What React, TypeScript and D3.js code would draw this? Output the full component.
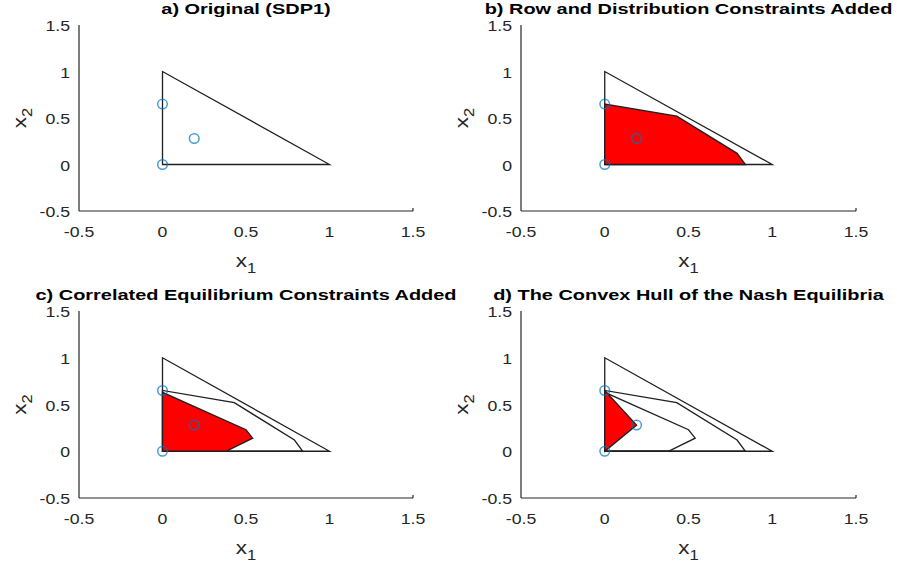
import React from "react";
import * as d3 from "d3";

type Pt = [number, number];

// feasible regions
const triangle: Pt[] = [[0, 0], [0, 1], [1, 0]];
const rowDistRegion: Pt[] = [[0, 0], [0, 0.65], [0.43, 0.52], [0.79, 0.12], [0.84, 0]];
const correlatedRegion: Pt[] = [[0, 0], [0, 0.63], [0.5, 0.23], [0.54, 0.14], [0.38, 0]];
const nashHull: Pt[] = [[0, 0], [0, 0.65], [0.19, 0.28]];
const nashPoints: Pt[] = [[0, 0], [0, 0.65], [0.19, 0.28]];

const tickValues = [-0.5, 0, 0.5, 1, 1.5];

const titles = [
  "a) Original (SDP1)",
  "b) Row and Distribution Constraints Added",
  "c) Correlated Equilibrium Constraints Added",
  "d) The Convex Hull of the Nash Equilibria",
];

// outlines and filled region for each panel
const panels: { outlines: Pt[][]; filled: Pt[] | null }[] = [
  { outlines: [triangle], filled: null },
  { outlines: [triangle], filled: rowDistRegion },
  { outlines: [triangle, rowDistRegion], filled: correlatedRegion },
  { outlines: [triangle, rowDistRegion, correlatedRegion], filled: nashHull },
];

const boxes = [
  { x0: 79, x1: 413, y0: 25, y1: 211 },
  { x0: 521, x1: 856, y0: 25, y1: 211 },
  { x0: 79, x1: 413, y0: 311, y1: 498 },
  { x0: 521, x1: 856, y0: 311, y1: 498 },
];

const axisColor = "#262626";
const font = "'Liberation Sans', Arial, Helvetica, sans-serif";
// the source figure's text is a bit wider than Liberation Sans
const SX = 1.18;

function T({
  x,
  y,
  size,
  anchor = "middle",
  bold = false,
  rotate = 0,
  fill = axisColor,
  sx = SX,
  children,
}: {
  x: number;
  y: number;
  size: number;
  anchor?: string;
  bold?: boolean;
  rotate?: number;
  fill?: string;
  sx?: number;
  children: React.ReactNode;
}) {
  const tr = rotate
    ? `translate(${x},${y}) rotate(${rotate}) scale(${sx},1)`
    : `translate(${x},${y}) scale(${sx},1)`;
  return (
    <text
      transform={tr}
      textAnchor={anchor as any}
      fontSize={size}
      fontWeight={bold ? "bold" : "normal"}
      fill={fill}
      fontFamily={font}
    >
      {children}
    </text>
  );
}

function Panel({ idx }: { idx: number }) {
  const b = boxes[idx];
  const p = panels[idx];
  const x = d3.scaleLinear().domain([-0.5, 1.5]).range([b.x0, b.x1]);
  const y = d3.scaleLinear().domain([-0.5, 1.5]).range([b.y1, b.y0]);
  const line = d3
    .line<Pt>()
    .x((d) => x(d[0]))
    .y((d) => y(d[1]))
    .curve(d3.curveLinearClosed);
  const cx = (b.x0 + b.x1) / 2;
  const cy = (b.y0 + b.y1) / 2;

  return (
    <g>
      {p.outlines.map((poly, i) => (
        <path key={i} d={line(poly) ?? ""} fill="none" stroke="#1f1f1f" strokeWidth={1.3} />
      ))}
      {p.filled ? (
        <path d={line(p.filled) ?? ""} fill="#ff0000" stroke="#1f1f1f" strokeWidth={1.3} />
      ) : null}
      {nashPoints.map((d, i) => (
        <circle
          key={i}
          cx={x(d[0])}
          cy={y(d[1])}
          r={4.8}
          fill="none"
          stroke="#0072BD"
          strokeOpacity={0.7}
          strokeWidth={1.5}
        />
      ))}
      {/* axes: left and bottom only */}
      <line x1={b.x0} x2={b.x1} y1={b.y1} y2={b.y1} stroke={axisColor} strokeWidth={1.2} />
      <line x1={b.x0} x2={b.x0} y1={b.y0} y2={b.y1} stroke={axisColor} strokeWidth={1.2} />
      <line x1={b.x1} x2={b.x1} y1={b.y1} y2={b.y1 - 3} stroke={axisColor} strokeWidth={1.2} />
      {tickValues.map((t) => (
        <T key={"x" + t} x={x(t)} y={b.y1 + 26} size={15}>
          {String(t)}
        </T>
      ))}
      {tickValues.map((t) => (
        <T key={"y" + t} x={b.x0 - 9} y={y(t) + 6} size={15} anchor="end">
          {String(t)}
        </T>
      ))}
      <T x={cx} y={b.y0 - 11} size={15} sx={1.33} bold fill="#000">
        {titles[idx]}
      </T>
      <T x={cx} y={b.y1 + 56} size={19}>
        x
        <tspan fontSize={14} dy={6}>
          1
        </tspan>
      </T>
      <T x={b.x0 - 53} y={cy} size={19} rotate={-90}>
        x
        <tspan fontSize={14} dy={6}>
          2
        </tspan>
      </T>
    </g>
  );
}

export default function App() {
  return (
    <div style={{ position: "fixed", left: 0, top: 0, background: "#fff" }}>
      <svg width={897} height={571} style={{ display: "block" }}>
        <rect width={897} height={571} fill="#fff" />
        {[0, 1, 2, 3].map((i) => (
          <Panel key={i} idx={i} />
        ))}
      </svg>
    </div>
  );
}
